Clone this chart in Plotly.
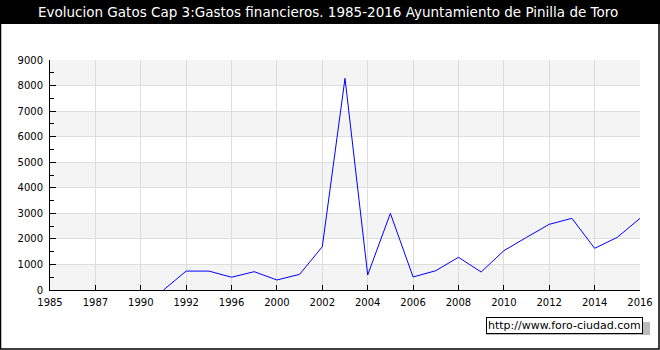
import plotly.graph_objects as go

years = ["1985", "1986", "1987", "1988", "1990", "1991", "1992", "1994", "1996", "1998",
         "2000", "2001", "2002", "2003", "2004", "2005", "2006", "2007", "2008", "2009",
         "2010", "2011", "2012", "2013", "2014", "2015", "2016"]
gastos = [None, None, None, None, None, 0, 740, 740, 500, 717,
          391, 613, 1694, 8282, 587, 3000, 509, 755, 1279, 704,
          1538, 2060, 2570, 2805, 1631, 2060, 2805]
tick_labels = years[::2]
y_ticks = list(range(0, 10000, 1000))

title_text = "Evolucion Gatos Cap 3:Gastos financieros. 1985-2016 Ayuntamiento de Pinilla de Toro"
watermark = "http://www.foro-ciudad.com"

W, H = 660, 350
ML, MR, MT, MB = 50, 20, 60, 60
PW, PH = W - ML - MR, H - MT - MB

def px_x(x):
    return (x - ML) / PW

def px_y(y):
    return 1 - (y - MT) / PH

fig = go.Figure()
fig.add_trace(go.Scatter(x=years, y=gastos, mode="lines",
                         line=dict(color="#0000ff", width=1),
                         connectgaps=False, hoverinfo="x+y"))

shapes = []
# alternating bands
for lo in range(0, 9000, 2000):
    shapes.append(dict(type="rect", xref="paper", yref="y", x0=0, x1=1, y0=lo, y1=lo + 1000,
                       fillcolor="#f4f4f4", line=dict(width=0), layer="below"))
# title bar
shapes.append(dict(type="rect", xref="paper", yref="paper", x0=px_x(0), x1=px_x(W),
                   y0=px_y(24), y1=px_y(0), fillcolor="#000000", line=dict(width=0), layer="below"))
# outer border
shapes.append(dict(type="rect", xref="paper", yref="paper", x0=px_x(0.5), x1=px_x(W - 1),
                   y0=px_y(H - 1), y1=px_y(0.5), fillcolor="rgba(0,0,0,0)",
                   line=dict(color="#000000", width=1.5), layer="above"))
# watermark shadow
shapes.append(dict(type="rect", xref="paper", yref="paper", x0=px_x(486), x1=px_x(650),
                   y0=px_y(335), y1=px_y(322), fillcolor="#bbbbbb", line=dict(width=0), layer="below"))

fig.update_layout(
    width=W, height=H, autosize=False,
    margin=dict(l=ML, r=MR, t=MT, b=MB, autoexpand=False),
    paper_bgcolor="#ffffff", plot_bgcolor="#ffffff",
    showlegend=False,
    font=dict(family="DejaVu Sans", size=10, color="#000000"),
    shapes=shapes,
    annotations=[
        dict(text=title_text, xref="paper", yref="paper", x=px_x(328), y=px_y(12),
             xanchor="center", yanchor="middle", showarrow=False,
             font=dict(family="DejaVu Sans", size=13.5, color="#ffffff")),
        dict(text=watermark, xref="paper", yref="paper", x=px_x(564.5), y=px_y(325.5),
             xanchor="center", yanchor="middle", showarrow=False,
             bgcolor="#ffffff", bordercolor="#000000", borderwidth=1, borderpad=1,
             font=dict(family="DejaVu Sans", size=11, color="#000000")),
    ],
    xaxis=dict(type="category", categoryorder="array", categoryarray=years,
               range=[0, len(years) - 1], tickmode="array",
               tickvals=tick_labels, ticktext=tick_labels,
               showgrid=True, gridcolor="#dddddd", gridwidth=1,
               showline=True, linecolor="#000000", linewidth=1,
               ticks="inside", ticklen=5, tickcolor="#000000", zeroline=False,
               ticklabelstandoff=3,
               tickfont=dict(family="DejaVu Sans", size=10)),
    yaxis=dict(range=[0, 9000], tickmode="array", tickvals=y_ticks,
               showgrid=True, gridcolor="#dddddd", gridwidth=1,
               showline=True, linecolor="#000000", linewidth=1,
               ticks="inside", ticklen=6, tickcolor="#000000", zeroline=False,
               ticklabelstandoff=4,
               minor=dict(dtick=500, ticks="inside", ticklen=4, tickcolor="#000000", showgrid=False),
               tickfont=dict(family="DejaVu Sans", size=10)),
)

fig.write_html("out.html", config={"responsive": False, "displayModeBar": False})
